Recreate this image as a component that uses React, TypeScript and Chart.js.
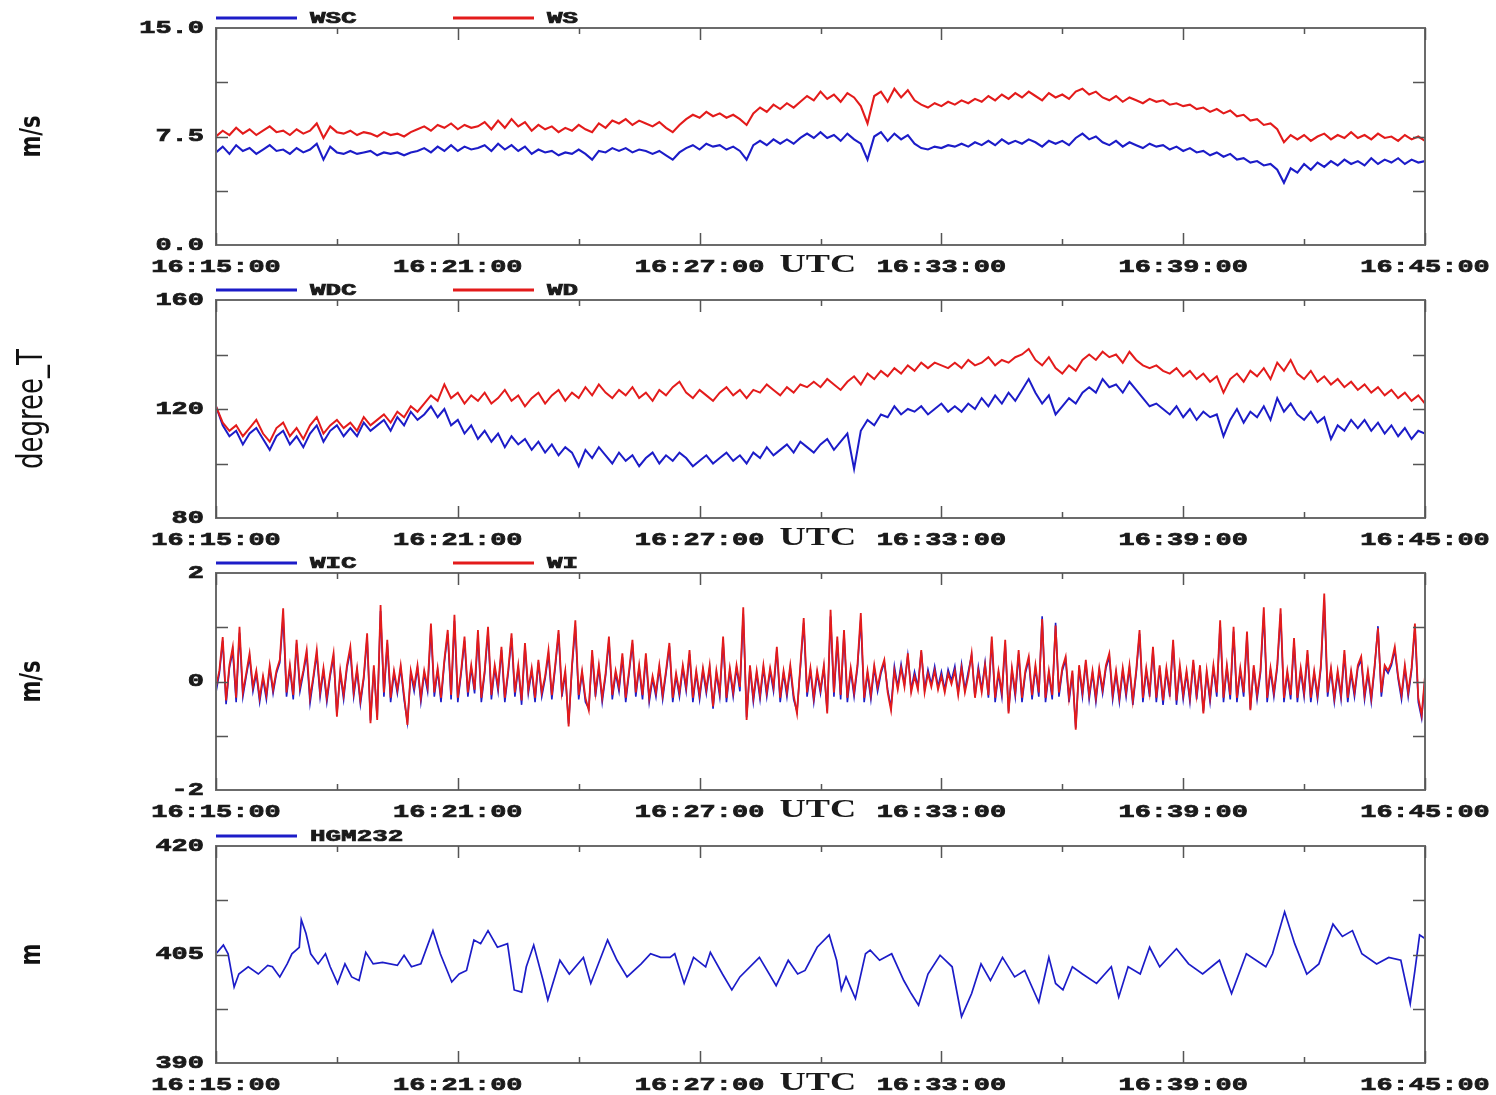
import React, { useEffect, useRef } from 'react';
import { Chart, registerables } from 'chart.js';

Chart.register(...registerables);

// ---------- colours & fonts ----------
const BLUE = '#1c1cc8';
const RED = '#e31b1b';
const FRAME = '#6b6b6b';
const TICK_COLOR = '#555555';
const TEXT = '#1a1a1a';
const TICK_FONT = 'bold 19px "Liberation Mono", monospace';
const LEGEND_FONT = 'bold 16px "Liberation Mono", monospace';
const UTC_FONT = 'bold 25px "Liberation Serif", serif';
const TITLE_FONT_BOLD = 'bold 21px "DejaVu Sans", sans-serif';
const TITLE_FONT = '26px "DejaVu Sans", sans-serif';
const STRETCH = 1.42;

// ---------- time axis ----------
const SECONDS_10 = Array.from({ length: 181 }, (_, i) => i * 10);
const SECONDS_5 = Array.from({ length: 361 }, (_, i) => i * 5);
const xTickSeconds = [0, 180, 360, 540, 720, 900, 1080, 1260, 1440, 1620, 1800];
const xLabelSeconds = [0, 360, 720, 1080, 1440, 1800];
const xTickLabels = ['16:15:00', '16:21:00', '16:27:00', '16:33:00', '16:39:00', '16:45:00'];
const UTC_LABEL = 'UTC';
const UTC_AT_SECOND = 896;

// ---------- panel 1: wind speed (m/s), 10 s samples ----------
const wscValues = [
  6.4, 6.8, 6.3, 6.9, 6.5, 6.7, 6.3, 6.6, 6.9, 6.5,
  6.6, 6.3, 6.7, 6.4, 6.6, 7.0, 5.9, 6.8, 6.4, 6.3,
  6.5, 6.3, 6.4, 6.5, 6.2, 6.4, 6.3, 6.4, 6.2, 6.4,
  6.5, 6.7, 6.4, 6.8, 6.5, 6.9, 6.5, 6.8, 6.6, 6.7,
  6.9, 6.5, 7.0, 6.6, 6.9, 6.5, 6.8, 6.3, 6.6, 6.4,
  6.5, 6.2, 6.4, 6.3, 6.6, 6.3, 5.9, 6.5, 6.4, 6.7,
  6.5, 6.7, 6.4, 6.6, 6.5, 6.3, 6.5, 6.2, 5.9, 6.4,
  6.7, 6.9, 6.6, 7.0, 6.8, 6.9, 6.6, 6.8, 6.5, 5.9,
  6.9, 7.2, 6.9, 7.3, 7.0, 7.3, 7.0, 7.4, 7.7, 7.4,
  7.8, 7.4, 7.6, 7.2, 7.7, 7.3, 7.0, 5.9, 7.5, 7.8,
  7.2, 7.7, 7.3, 7.6, 7.0, 6.7, 6.6, 6.8, 6.7, 6.9,
  6.8, 7.0, 6.8, 7.1, 6.9, 7.2, 6.9, 7.3, 7.0, 7.2,
  7.0, 7.3, 7.1, 6.8, 7.2, 7.0, 7.2, 6.9, 7.4, 7.7,
  7.3, 7.5, 7.1, 6.9, 7.2, 6.8, 7.1, 6.9, 6.7, 7.0,
  6.8, 6.9, 6.6, 6.8, 6.5, 6.7, 6.4, 6.5, 6.2, 6.4,
  6.1, 6.3, 5.9, 6.0, 5.7, 5.8, 5.5, 5.6, 5.2, 4.3,
  5.3, 5.0, 5.6, 5.2, 5.7, 5.4, 5.8, 5.5, 5.9, 5.6,
  5.8, 5.5, 6.0, 5.6, 5.9, 5.7, 6.0, 5.6, 5.9, 5.7,
  5.8,
];
const wsValues = [
  7.5, 7.9, 7.6, 8.1, 7.7, 8.0, 7.6, 7.9, 8.2, 7.8,
  7.9, 7.6, 8.0, 7.7, 7.9, 8.4, 7.4, 8.2, 7.8, 7.7,
  7.9, 7.6, 7.8, 7.7, 7.5, 7.8, 7.6, 7.7, 7.5, 7.8,
  8.0, 8.2, 7.9, 8.3, 8.1, 8.4, 8.0, 8.3, 8.1, 8.2,
  8.5, 8.0, 8.6, 8.1, 8.7, 8.2, 8.5, 7.9, 8.3, 8.0,
  8.2, 7.8, 8.1, 7.9, 8.3, 8.0, 7.8, 8.4, 8.1, 8.6,
  8.4, 8.7, 8.3, 8.6, 8.4, 8.2, 8.5, 8.1, 7.8, 8.3,
  8.7, 9.0, 8.8, 9.2, 8.9, 9.1, 8.8, 9.0, 8.7, 8.3,
  9.1, 9.5, 9.2, 9.7, 9.4, 9.8, 9.5, 9.9, 10.3, 10.0,
  10.6, 10.1, 10.4, 9.9, 10.5, 10.2, 9.6, 8.4, 10.3, 10.6,
  9.9, 10.8, 10.2, 10.7, 10.0, 9.7, 9.5, 9.8, 9.6, 9.9,
  9.7, 10.0, 9.8, 10.1, 9.9, 10.3, 10.0, 10.4, 10.1, 10.5,
  10.2, 10.6, 10.3, 10.0, 10.5, 10.2, 10.4, 10.1, 10.6, 10.8,
  10.4, 10.6, 10.2, 10.0, 10.3, 9.9, 10.2, 10.0, 9.8, 10.1,
  9.9, 10.0, 9.7, 9.8, 9.6, 9.7, 9.4, 9.5, 9.2, 9.4,
  9.1, 9.3, 8.9, 9.0, 8.6, 8.7, 8.3, 8.4, 8.0, 7.1,
  7.6, 7.3, 7.6, 7.2, 7.5, 7.7, 7.3, 7.6, 7.4, 7.8,
  7.4, 7.6, 7.3, 7.7, 7.4, 7.5, 7.2, 7.6, 7.3, 7.5,
  7.2,
];

// ---------- panel 2: wind direction (degree_T), 10 s samples ----------
const wdcValues = [
  121, 114, 110, 112, 107, 111, 113, 109, 105, 110,
  112, 107, 110, 106, 111, 114, 108, 112, 114, 110,
  113, 110, 115, 112, 114, 116, 112, 117, 114, 119,
  116, 118, 121, 117, 120, 114, 116, 111, 114, 109,
  112, 108, 111, 106, 110, 107, 109, 105, 108, 104,
  107, 103, 106, 104, 99, 105, 102, 106, 103, 100,
  104, 101, 103, 99, 102, 104, 100, 103, 101, 104,
  102, 99, 101, 103, 100, 102, 104, 101, 103, 100,
  104, 102, 106, 103, 105, 107, 104, 108, 106, 104,
  107, 109, 105, 108, 111, 98, 112, 116, 114, 118,
  117, 121, 118, 120, 119, 121, 118, 120, 122, 119,
  121, 119, 122, 120, 124, 121, 125, 122, 126, 123,
  127, 131, 126, 122, 125, 118, 121, 124, 122, 126,
  128, 126, 131, 128, 129, 126, 130, 127, 124, 121,
  122, 120, 118, 121, 117, 120, 116, 119, 117, 118,
  110, 116, 120, 115, 119, 117, 121, 116, 124, 119,
  122, 118, 116, 119, 115, 117, 109, 114, 112, 116,
  113, 116, 112, 115, 111, 114, 110, 113, 109, 112,
  111,
];
const wdValues = [
  121, 115, 112, 114, 110, 113, 116, 111, 108, 113,
  115, 110, 113, 109, 114, 117, 111, 114, 116, 113,
  115, 112, 117, 114, 116, 118, 115, 119, 117, 121,
  119, 122, 125, 123, 129, 124, 126, 122, 125, 123,
  126, 122, 124, 127, 123, 125, 121, 124, 126, 122,
  125, 127, 123, 126, 124, 128, 125, 129, 126, 124,
  127, 125, 128, 124, 126, 123, 127, 125, 128, 130,
  126, 124, 127, 125, 123, 126, 128, 125, 127, 124,
  127, 126, 129, 127, 125, 128, 126, 129, 128, 130,
  128, 131, 129, 127, 130, 132, 129, 133, 131, 134,
  132, 135, 133, 136, 134, 137, 135, 137, 136, 135,
  137, 135, 138, 136, 137, 139, 136, 138, 137, 139,
  140, 142, 138, 136, 139, 135, 133, 136, 134, 138,
  140, 138, 141, 139, 140, 137, 141, 138, 136, 135,
  136, 134, 133, 135, 132, 134, 131, 133, 130, 132,
  126, 131, 133, 130, 134, 132, 135, 131, 137, 134,
  138, 133, 131, 134, 130, 132, 129, 131, 128, 130,
  127, 129, 126, 128, 125, 127, 124, 126, 123, 125,
  122,
];

// ---------- panel 3: vertical wind (m/s), 5 s samples ----------
const wicValues = [
  -0.2, 0.15, 0.75, -0.42, 0.25, 0.55, -0.38, 0.9, -0.28, 0.1, 0.45, -0.18, 0.15, -0.38, 0.05, -0.33, 0.25, -0.22, 0.15, 0.35,
  1.2, -0.28, 0.25, -0.33, 0.7, -0.18, 0.15, 0.5, -0.4, 0.05, 0.5, -0.28, 0.2, -0.38, 0.1, 0.45, -0.6, 0.15, -0.33, 0.25,
  0.55, -0.28, 0.2, -0.42, 0.05, 0.8, -0.72, 0.25, -0.66, 1.3, -0.28, 0.7, -0.38, 0.15, -0.22, 0.25, -0.33, -0.75, 0.15, -0.18,
  0.25, -0.38, 0.15, -0.18, 0.98, -0.28, 0.2, -0.38, 0.35, 0.88, -0.33, 1.12, -0.38, 0.15, 0.75, -0.28, 0.25, -0.22, 0.85, -0.38,
  0.15, 0.92, -0.33, 0.25, -0.18, 0.58, -0.38, 0.15, 0.8, -0.28, 0.25, -0.43, 0.65, -0.22, 0.2, -0.38, 0.35, -0.28, 0.05, 0.5,
  -0.33, 0.25, 0.88, -0.28, 0.15, -0.78, 0.25, 1.02, -0.33, 0.15, -0.38, -0.5, 0.5, -0.28, 0.25, -0.38, 0.1, 0.75, -0.33, 0.15,
  -0.18, 0.45, -0.38, 0.15, 0.7, -0.28, 0.25, -0.33, 0.45, -0.38, 0.05, -0.28, 0.25, -0.33, 0.15, 0.65, -0.38, 0.1, -0.28, 0.25,
  -0.18, 0.5, -0.38, 0.15, -0.33, 0.2, -0.22, 0.25, -0.5, 0.15, -0.28, 0.75, -0.38, 0.2, -0.28, 0.25, -0.18, 1.25, -0.66, 0.25,
  -0.38, 0.15, -0.33, 0.25, -0.28, 0.2, -0.18, 0.58, -0.38, 0.15, -0.28, 0.25, -0.33, -0.55, 0.25, 1.08, -0.28, 0.2, -0.38, 0.15,
  -0.22, 0.25, -0.55, 1.2, -0.28, 0.75, -0.33, 0.88, -0.38, 0.2, -0.28, 0.25, 1.15, -0.38, 0.15, -0.33, 0.25, -0.18, 0.15, 0.35,
  -0.15, -0.48, 0.28, -0.1, 0.32, -0.05, 0.48, -0.15, 0.18, -0.1, 0.55, -0.15, 0.22, -0.05, 0.28, -0.1, 0.18, -0.15, 0.22, 0.02,
  0.28, -0.2, 0.32, -0.15, 0.18, 0.48, -0.28, 0.27, -0.15, 0.35, -0.3, 0.75, -0.38, 0.15, -0.28, 0.7, -0.55, 0.2, -0.28, 0.5,
  -0.38, 0.15, 0.4, -0.33, 0.25, -0.28, 1.2, -0.38, 0.15, -0.33, 1.08, -0.28, 0.2, 0.4, -0.38, 0.15, -0.85, 0.25, -0.28, 0.35,
  -0.33, 0.15, -0.38, 0.2, -0.22, 0.25, 0.45, -0.33, 0.15, -0.38, 0.2, -0.28, 0.25, -0.43, 0.15, 0.88, -0.38, 0.2, -0.28, 0.58,
  -0.38, 0.25, -0.43, 0.2, -0.28, 0.7, -0.43, 0.25, -0.33, 0.15, -0.38, 0.35, -0.33, 0.25, -0.55, 0.15, -0.38, 0.25, -0.28, 1.05,
  -0.38, 0.25, -0.33, 0.92, -0.38, 0.2, -0.28, 0.85, -0.5, 0.25, -0.33, 0.15, 1.25, -0.38, 0.2, -0.28, 0.25, 1.25, -0.38, 0.15,
  -0.33, 0.72, -0.38, 0.2, -0.28, 0.5, -0.38, 0.15, -0.33, 0.25, 1.5, -0.28, 0.2, -0.38, 0.15, -0.33, 0.5, -0.38, 0.15, -0.28,
  0.25, 0.4, -0.33, 0.15, -0.38, 0.25, 1.02, -0.28, 0.25, 0.15, 0.3, 0.58, 0.05, -0.33, 0.25, -0.28, 0.2, 1.0, -0.38, -0.68,
  0.05,
];
const wiValues = [
  -0.1, 0.2, 0.82, -0.35, 0.3, 0.64, -0.3, 1.01, -0.2, 0.15, 0.52, -0.1, 0.2, -0.3, 0.1, -0.25, 0.3, -0.15, 0.2, 0.4,
  1.35, -0.2, 0.3, -0.25, 0.77, -0.1, 0.2, 0.58, -0.3, 0.1, 0.58, -0.2, 0.25, -0.3, 0.15, 0.52, -0.65, 0.2, -0.25, 0.3,
  0.64, -0.2, 0.25, -0.35, 0.1, 0.89, -0.77, 0.3, -0.71, 1.41, -0.2, 0.77, -0.3, 0.2, -0.15, 0.3, -0.25, -0.8, 0.2, -0.1,
  0.3, -0.3, 0.2, -0.1, 1.07, -0.2, 0.25, -0.3, 0.4, 0.95, -0.25, 1.23, -0.3, 0.2, 0.83, -0.2, 0.3, -0.15, 0.95, -0.3,
  0.2, 1.01, -0.25, 0.3, -0.1, 0.64, -0.3, 0.2, 0.89, -0.2, 0.3, -0.35, 0.71, -0.15, 0.25, -0.3, 0.4, -0.2, 0.1, 0.58,
  -0.25, 0.3, 0.95, -0.2, 0.2, -0.83, 0.3, 1.13, -0.25, 0.2, -0.3, -0.53, 0.58, -0.2, 0.3, -0.3, 0.15, 0.83, -0.25, 0.2,
  -0.1, 0.52, -0.3, 0.2, 0.77, -0.2, 0.3, -0.25, 0.52, -0.3, 0.1, -0.2, 0.3, -0.25, 0.2, 0.71, -0.3, 0.15, -0.2, 0.3,
  -0.1, 0.58, -0.3, 0.2, -0.25, 0.25, -0.15, 0.3, -0.46, 0.2, -0.2, 0.83, -0.3, 0.25, -0.2, 0.3, -0.1, 1.37, -0.71, 0.3,
  -0.3, 0.2, -0.25, 0.3, -0.2, 0.25, -0.1, 0.64, -0.3, 0.2, -0.2, 0.3, -0.25, -0.59, 0.3, 1.17, -0.2, 0.25, -0.3, 0.2,
  -0.15, 0.3, -0.59, 1.32, -0.2, 0.83, -0.25, 0.95, -0.3, 0.25, -0.2, 0.3, 1.26, -0.3, 0.2, -0.25, 0.3, -0.1, 0.2, 0.4,
  -0.2, -0.53, 0.2, -0.15, 0.25, -0.1, 0.52, -0.2, 0.1, -0.15, 0.58, -0.2, 0.15, -0.1, 0.2, -0.15, 0.1, -0.2, 0.15, -0.05,
  0.2, -0.25, 0.25, -0.2, 0.1, 0.52, -0.3, 0.2, -0.2, 0.3, -0.25, 0.83, -0.3, 0.2, -0.2, 0.77, -0.59, 0.25, -0.2, 0.58,
  -0.3, 0.2, 0.46, -0.25, 0.3, -0.2, 1.15, -0.3, 0.2, -0.25, 1.03, -0.2, 0.25, 0.46, -0.3, 0.2, -0.89, 0.3, -0.2, 0.4,
  -0.25, 0.2, -0.3, 0.25, -0.15, 0.3, 0.52, -0.25, 0.2, -0.3, 0.25, -0.2, 0.3, -0.35, 0.2, 0.95, -0.3, 0.25, -0.2, 0.64,
  -0.3, 0.3, -0.35, 0.25, -0.2, 0.77, -0.35, 0.3, -0.25, 0.2, -0.3, 0.4, -0.25, 0.3, -0.59, 0.2, -0.3, 0.3, -0.2, 1.13,
  -0.3, 0.3, -0.25, 1.01, -0.3, 0.25, -0.2, 0.92, -0.53, 0.3, -0.25, 0.2, 1.37, -0.3, 0.25, -0.2, 0.3, 1.35, -0.3, 0.2,
  -0.25, 0.8, -0.3, 0.25, -0.2, 0.58, -0.3, 0.2, -0.25, 0.3, 1.62, -0.2, 0.25, -0.3, 0.2, -0.25, 0.58, -0.3, 0.2, -0.2,
  0.3, 0.46, -0.25, 0.2, -0.3, 0.3, 0.98, -0.2, 0.3, 0.2, 0.35, 0.64, 0.1, -0.25, 0.3, -0.2, 0.25, 1.07, -0.3, -0.62,
  0.1,
];

// ---------- panel 4: HGM232 (m), irregular samples ----------
const hgmSeconds = [
  0, 11, 18, 27, 34, 48, 63, 77, 84, 95, 106, 113, 124, 127, 134, 141, 152, 163, 170, 181,
  192, 202, 213, 223, 234, 248, 270, 280, 291, 305, 323, 334, 351, 362, 373, 384, 394, 405, 419, 434,
  444, 455, 462, 473, 487, 494, 512, 526, 547, 558, 583, 597, 612, 633, 647, 662, 676, 683, 697, 711,
  729, 736, 754, 768, 780, 809, 834, 852, 866, 877, 895, 913, 924, 931, 938, 952, 967, 974, 988, 1006,
  1024, 1035, 1046, 1060, 1078, 1096, 1110, 1125, 1139, 1153, 1171, 1189, 1204, 1225, 1240, 1250, 1261, 1275, 1290, 1311,
  1333, 1344, 1358, 1376, 1390, 1405, 1430, 1448, 1469, 1494, 1512, 1534, 1563, 1573, 1591, 1606, 1624, 1642, 1663, 1677,
  1692, 1706, 1728, 1746, 1764, 1778, 1785, 1792, 1800,
];
const hgmValues = [
  405.1, 406.3, 405.1, 400.5, 402.3, 403.3, 402.3, 403.5, 403.3, 401.9, 403.7, 405.1, 406.0, 409.8, 407.9, 405.1, 403.7, 405.1, 403.3, 401.0,
  403.7, 401.9, 401.4, 405.3, 403.7, 403.9, 403.5, 404.9, 403.3, 403.7, 408.3, 405.1, 401.2, 402.3, 402.8, 407.0, 406.5, 408.3, 406.0, 406.5,
  400.1, 399.8, 403.3, 406.3, 401.4, 398.7, 404.2, 402.3, 404.6, 401.0, 407.0, 404.2, 401.9, 403.7, 405.1, 404.6, 404.6, 405.1, 401.0, 404.6,
  403.3, 405.3, 402.3, 400.1, 401.9, 404.6, 400.7, 404.2, 402.3, 402.8, 406.0, 407.7, 404.2, 400.1, 401.9, 398.9, 405.1, 405.6, 404.2, 405.1,
  401.4, 399.6, 398.0, 402.3, 404.9, 403.3, 396.4, 399.6, 403.7, 401.4, 404.6, 401.9, 402.8, 398.4, 404.6, 401.0, 400.1, 403.3, 402.3, 401.0,
  403.3, 399.1, 403.3, 402.3, 406.0, 403.3, 405.8, 403.7, 402.3, 404.2, 399.6, 405.1, 403.3, 405.1, 410.9, 406.5, 402.3, 403.7, 409.2, 407.5,
  408.3, 405.1, 403.7, 404.6, 404.2, 398.2, 402.8, 407.7, 407.2,
];

type Series = { label: string; color: string; times: number[]; values: number[]; width: number };
type Panel = {
  top: number;
  height: number;
  padTop: number;
  padBottom: number;
  yMin: number;
  yMax: number;
  yTicks: number[];
  yTickLabels: string[];
  title: string;
  titleFont: string;
  series: Series[];
};

const PANELS: Panel[] = [
  {
    top: 0, height: 273, padTop: 28, padBottom: 28,
    yMin: 0, yMax: 15, yTicks: [0, 7.5, 15], yTickLabels: ['0.0', '7.5', '15.0'],
    title: 'm/s', titleFont: TITLE_FONT_BOLD,
    series: [
      { label: 'WSC', color: BLUE, times: SECONDS_10, values: wscValues, width: 2.1 },
      { label: 'WS', color: RED, times: SECONDS_10, values: wsValues, width: 2.1 },
    ],
  },
  {
    top: 273, height: 273, padTop: 27, padBottom: 28,
    yMin: 80, yMax: 160, yTicks: [80, 120, 160], yTickLabels: ['80', '120', '160'],
    title: 'degree_T', titleFont: TITLE_FONT,
    series: [
      { label: 'WDC', color: BLUE, times: SECONDS_10, values: wdcValues, width: 2.0 },
      { label: 'WD', color: RED, times: SECONDS_10, values: wdValues, width: 2.0 },
    ],
  },
  {
    top: 546, height: 273, padTop: 27, padBottom: 29,
    yMin: -2, yMax: 2, yTicks: [-2, 0, 2], yTickLabels: ['-2', '0', '2'],
    title: 'm/s', titleFont: TITLE_FONT_BOLD,
    series: [
      { label: 'WIC', color: BLUE, times: SECONDS_5, values: wicValues, width: 1.6 },
      { label: 'WI', color: RED, times: SECONDS_5, values: wiValues, width: 1.8 },
    ],
  },
  {
    top: 819, height: 276, padTop: 27, padBottom: 32,
    yMin: 390, yMax: 420, yTicks: [390, 405, 420], yTickLabels: ['390', '405', '420'],
    title: 'm', titleFont: TITLE_FONT_BOLD,
    series: [{ label: 'HGM232', color: BLUE, times: hgmSeconds, values: hgmValues, width: 1.7 }],
  },
];

function stretchText(ctx: CanvasRenderingContext2D, text: string, x: number, y: number, align: CanvasTextAlign, sx: number, heavy = true) {
  ctx.save();
  ctx.translate(x, y);
  ctx.scale(sx, 1);
  ctx.textAlign = align;
  if (heavy) {
    ctx.lineWidth = 0.7;
    ctx.strokeStyle = ctx.fillStyle as string;
    ctx.strokeText(text, 0, 0);
  }
  ctx.fillText(text, 0, 0);
  ctx.restore();
}

function makeDecor(panel: Panel) {
  return {
    id: 'decor',
    afterDraw(chart: any) {
      const ctx: CanvasRenderingContext2D = chart.ctx;
      const a = chart.chartArea;
      const xs = chart.scales.x;
      const ys = chart.scales.y;
      ctx.save();

      // frame
      ctx.strokeStyle = FRAME;
      ctx.lineWidth = 2;
      ctx.strokeRect(a.left, a.top, a.right - a.left, a.bottom - a.top);

      // x ticks (inward, top & bottom)
      ctx.strokeStyle = TICK_COLOR;
      ctx.lineWidth = 1.5;
      xTickSeconds.forEach((t) => {
        const px = Math.round(xs.getPixelForValue(t)) + 0.5;
        const len = t % 360 === 0 ? 12 : 6;
        ctx.beginPath();
        ctx.moveTo(px, a.top);
        ctx.lineTo(px, a.top + len);
        ctx.moveTo(px, a.bottom);
        ctx.lineTo(px, a.bottom - len);
        ctx.stroke();
      });

      // y minor ticks (inward, left & right)
      for (let k = 1; k <= 3; k++) {
        const v = panel.yMin + (k * (panel.yMax - panel.yMin)) / 4;
        const py = Math.round(ys.getPixelForValue(v)) + 0.5;
        ctx.beginPath();
        ctx.moveTo(a.left, py);
        ctx.lineTo(a.left + 12, py);
        ctx.moveTo(a.right, py);
        ctx.lineTo(a.right - 12, py);
        ctx.stroke();
      }

      // y labels
      ctx.fillStyle = TEXT;
      ctx.font = TICK_FONT;
      ctx.textBaseline = 'middle';
      panel.yTicks.forEach((v, i) => {
        stretchText(ctx, panel.yTickLabels[i], a.left - 12, ys.getPixelForValue(v), 'right', STRETCH);
      });

      // x labels
      xLabelSeconds.forEach((t, i) => {
        stretchText(ctx, xTickLabels[i], xs.getPixelForValue(t), a.bottom + 22, 'center', STRETCH);
      });
      ctx.font = UTC_FONT;
      stretchText(ctx, UTC_LABEL, xs.getPixelForValue(UTC_AT_SECOND), a.bottom + 21, 'center', 1.45, false);

      // legend
      ctx.font = LEGEND_FONT;
      panel.series.forEach((s, i) => {
        const x0 = a.left + i * 237;
        const ly = a.top - 10;
        ctx.strokeStyle = s.color;
        ctx.lineWidth = 3;
        ctx.beginPath();
        ctx.moveTo(x0, ly);
        ctx.lineTo(x0 + 81, ly);
        ctx.stroke();
        ctx.fillStyle = TEXT;
        stretchText(ctx, s.label, x0 + 94, ly + 1, 'left', 1.62);
      });

      // axis title (rotated)
      ctx.save();
      ctx.translate(33, (a.top + a.bottom) / 2);
      ctx.scale(1.35, 1);
      ctx.rotate(-Math.PI / 2);
      ctx.font = panel.titleFont;
      ctx.fillStyle = '#111';
      ctx.textAlign = 'center';
      ctx.textBaseline = 'middle';
      ctx.fillText(panel.title, 0, 0);
      ctx.restore();

      ctx.restore();
    },
  };
}

function PanelChart({ panel }: { panel: Panel }) {
  const ref = useRef<HTMLCanvasElement>(null);
  useEffect(() => {
    const canvas = ref.current;
    if (!canvas) return;
    const n = panel.series.length;
    const chart = new Chart(canvas, {
      type: 'line',
      data: {
        datasets: panel.series.map((s, i) => ({
          label: s.label,
          data: s.times.map((t, k) => ({ x: t, y: s.values[k] })),
          borderColor: s.color,
          backgroundColor: s.color,
          borderWidth: s.width,
          pointRadius: 0,
          tension: 0,
          fill: false,
          order: n - 1 - i,
        })),
      },
      options: {
        responsive: false,
        animation: false,
        events: [],
        layout: { padding: { left: 216, right: 71, top: panel.padTop, bottom: panel.padBottom } },
        scales: {
          x: { type: 'linear', min: 0, max: 1800, display: false },
          y: { type: 'linear', min: panel.yMin, max: panel.yMax, display: false },
        },
        plugins: { legend: { display: false }, tooltip: { enabled: false } },
      },
      plugins: [makeDecor(panel)],
    } as any);
    return () => chart.destroy();
  }, [panel]);
  return (
    <canvas
      ref={ref}
      width={1496}
      height={panel.height}
      style={{ position: 'absolute', left: 0, top: panel.top, width: 1496, height: panel.height }}
    />
  );
}

export default function App() {
  return (
    <div style={{ position: 'absolute', left: 0, top: 0, width: 1496, height: 1095, background: '#ffffff', overflow: 'hidden' }}>
      {PANELS.map((p, i) => (
        <PanelChart key={i} panel={p} />
      ))}
    </div>
  );
}
